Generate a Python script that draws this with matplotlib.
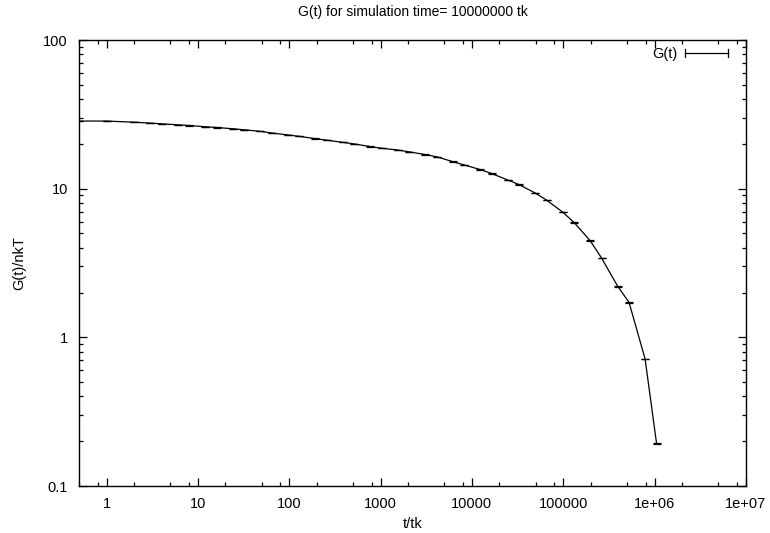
import matplotlib
matplotlib.use("Agg")
import matplotlib.pyplot as plt
from matplotlib.lines import Line2D
from matplotlib.legend_handler import HandlerBase
from matplotlib.ticker import LogLocator, FixedLocator, NullFormatter

plt.rcParams['font.family'] = ['Liberation Sans', 'DejaVu Sans']

# data (t in tk, G(t)/nkT)
t_vals = [0.5, 1, 2, 3, 4, 6, 8, 12, 16, 24, 32, 48, 64, 96, 128, 192, 256, 384,
          512, 768, 1024, 1536, 2048, 3072, 4096, 6144, 8192, 12288, 16384,
          24576, 32768, 49152, 65536, 98304, 131072, 196608, 262144, 393216,
          524288, 786432, 1048576]
g_vals = [28.5, 28.5, 28.0, 27.6, 27.3, 26.9, 26.6, 26.1, 25.8, 25.3, 24.9, 24.3,
          23.7, 23.0, 22.5, 21.7, 21.2, 20.5, 20.0, 19.2, 18.7, 18.2, 17.7, 16.96,
          16.4, 15.2, 14.45, 13.45, 12.65, 11.45, 10.65, 9.36, 8.38, 6.96, 5.93,
          4.47, 3.42, 2.21, 1.72, 0.715, 0.194]
g_err = [0.05, 0.05, 0.05, 0.05, 0.05, 0.05, 0.05, 0.05, 0.05, 0.05, 0.05, 0.05,
         0.05, 0.05, 0.05, 0.05, 0.05, 0.05, 0.05, 0.05, 0.05, 0.05, 0.05, 0.05,
         0.05, 0.05, 0.05, 0.05, 0.05, 0.05, 0.05, 0.05, 0.04, 0.04, 0.03,
         0.03, 0.02, 0.02, 0.01, 0.005, 0.002]

x_ticks = [1, 10, 100, 1000, 10000, 100000, 1e6, 1e7]
x_ticklabels = ["1", "10", "100", "1000", "10000", "100000", "1e+06", "1e+07"]
y_ticks = [0.1, 1, 10, 100]
y_ticklabels = ["0.1", "1", "10", "100"]

title = "G(t) for simulation time= 10000000 tk"
xlabel = "t/tk"
ylabel = "G(t)/nkT"
series_label = "G(t)"

fig = plt.figure(figsize=(7.70, 5.33), dpi=100)
ax = fig.add_axes([79/770, 1-486/533, (746-79)/770, (486-40)/533])

eb = ax.errorbar(t_vals, g_vals, yerr=g_err, color='black', lw=0.9,
                 elinewidth=0.9, capsize=2.6, capthick=0.9, label=series_label)

ax.set_xscale('log')
ax.set_yscale('log')
ax.set_xlim(0.5, 1e7)
ax.set_ylim(0.1, 100)

ax.xaxis.set_major_locator(FixedLocator(x_ticks))
ax.set_xticklabels(x_ticklabels)
ax.xaxis.set_minor_locator(LogLocator(base=10, subs=(2, 5, 8), numticks=30))
ax.xaxis.set_minor_formatter(NullFormatter())
ax.yaxis.set_major_locator(FixedLocator(y_ticks))
ax.set_yticklabels(y_ticklabels)
ax.yaxis.set_minor_locator(LogLocator(base=10, subs=(2, 3, 4, 5, 6, 7, 8, 9), numticks=30))
ax.yaxis.set_minor_formatter(NullFormatter())

ax.tick_params(which='both', direction='in', top=True, right=True, labelsize=10.5,
               width=0.9, colors='black')
ax.tick_params(which='major', length=6, pad=8)
ax.tick_params(which='minor', length=3)
for s in ax.spines.values():
    s.set_linewidth(1.0)

ax.set_title(title, fontsize=10, pad=17)
ax.set_xlabel(xlabel, fontsize=10.5, labelpad=4)
ax.set_ylabel(ylabel, fontsize=10.5, labelpad=12)


class GnuErrHandler(HandlerBase):
    def create_artists(self, legend, orig_handle, xdescent, ydescent, width,
                       height, fontsize, trans):
        y = height / 2 - ydescent
        x0, x1 = -xdescent, -xdescent + width
        h = 3.0
        arts = [Line2D([x0, x1], [y, y], color='black', lw=0.9),
                Line2D([x0, x0], [y - h, y + h], color='black', lw=0.9),
                Line2D([x1, x1], [y - h, y + h], color='black', lw=0.9)]
        for a in arts:
            a.set_transform(trans)
        return arts


ax.legend(handles=[eb], labels=[series_label], loc='upper right',
          bbox_to_anchor=(0.982, 0.997), frameon=False, markerfirst=False,
          handlelength=2.95, handletextpad=0.55, fontsize=10.5,
          borderaxespad=0.0, handler_map={type(eb): GnuErrHandler()})

fig.savefig("out.png", dpi=100)
